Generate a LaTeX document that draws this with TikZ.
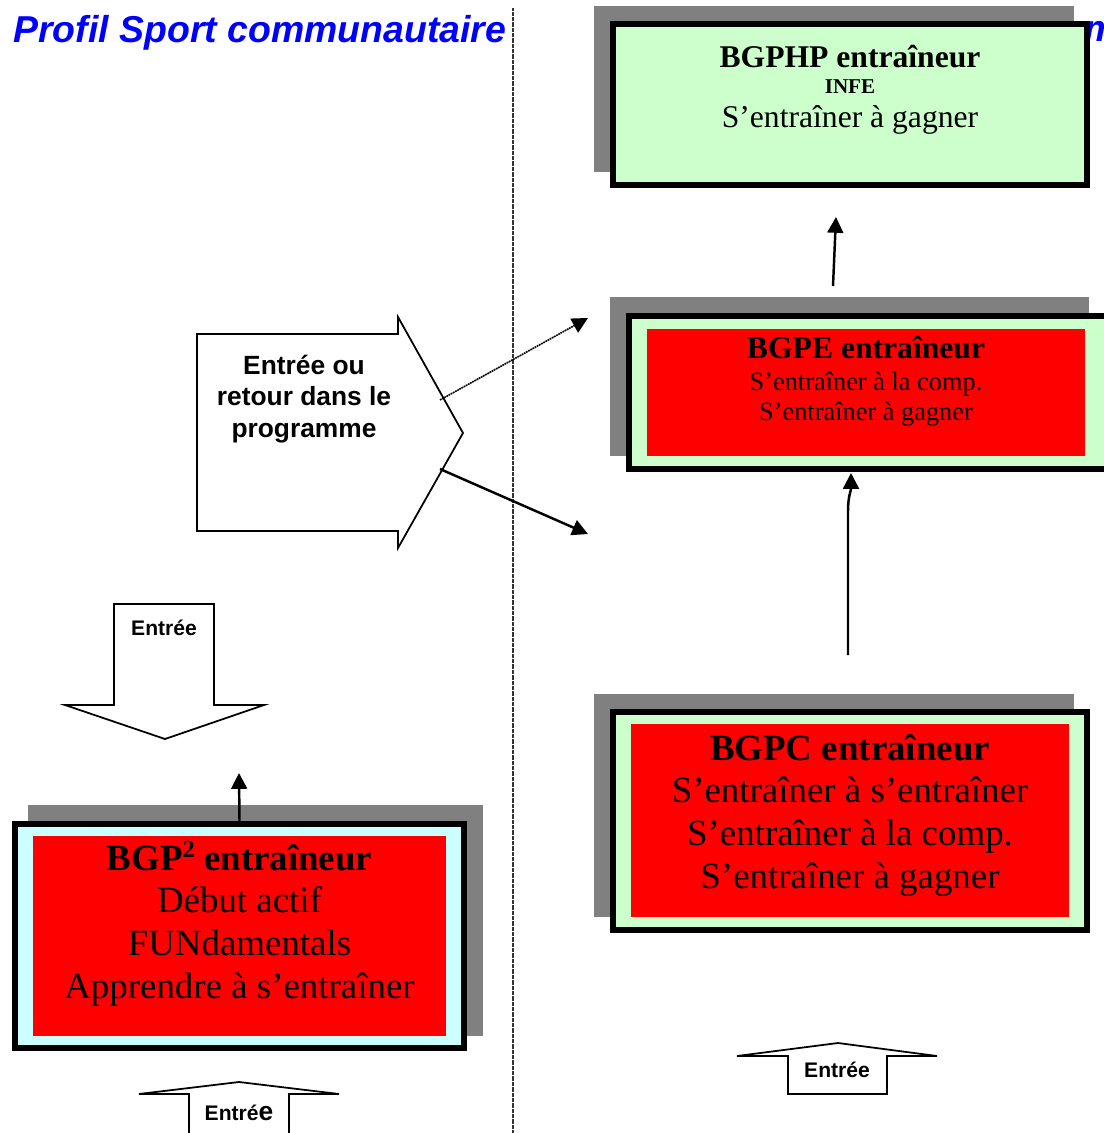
\documentclass[tikz,border=0pt]{standalone}
\usepackage{fontspec}
\setmainfont{Liberation Serif}
\setsansfont{Liberation Sans}
\usetikzlibrary{arrows.meta,positioning}

\definecolor{vertpale}{RGB}{204,255,204}
\definecolor{cyanpale}{RGB}{204,255,255}
\definecolor{ombre}{RGB}{128,128,128}
\definecolor{rouge}{RGB}{255,0,0}
\definecolor{bleutitre}{RGB}{0,0,255}

\tikzset{
  ombrage/.style={fill=ombre},
  cadre/.style={draw=black, line width=3.3pt, inner sep=0pt},
  fond/.style={fill=rouge, inner sep=0pt},
  ligne/.style={anchor=base, inner sep=0pt},
  fleche/.style={line width=1.4pt, -{Triangle[length=9pt,width=9pt]}},
  grossefleche/.style={draw=black, line width=1pt, fill=white, line join=miter},
  entreelbl/.style={font=\sffamily\bfseries\fontsize{12}{14}\selectfont, anchor=base, inner sep=0pt}
}

\begin{document}
\begin{tikzpicture}[x=0.02cm, y=-0.02cm]
  \useasboundingbox (0,0) rectangle (1103,1133);

  % separation line
  \draw[black!80, line width=0.6pt, dash pattern=on 0.4pt off 0.3pt] (513,8) -- (513,1133);

  % titles
  \node[ligne, anchor=base west, text=bleutitre, font=\sffamily\bfseries\itshape\fontsize{21.3}{25}\selectfont]
    (titre) at (13,42) {Profil Sport communautaire};
  \node[ligne, anchor=base west, text=bleutitre, font=\sffamily\bfseries\itshape\fontsize{21.3}{25}\selectfont]
    (titrebis) at (1084,41) {m};

  % BGPHP
  \fill[ombrage] (594,6) rectangle (1074,172);
  \node[cadre, fill=vertpale, minimum width=9.48cm, minimum height=3.22cm] (bgphp) at (850,104.5) {};
  \node[ligne, font=\bfseries\fontsize{18}{20}\selectfont] (bgphp1) at (850,67) {BGPHP entraîneur};
  \node[ligne, font=\bfseries\fontsize{12}{14}\selectfont] (bgphp2) at (850,93) {INFE};
  \node[ligne, font=\fontsize{18}{20}\selectfont] (bgphp3) at (850,127) {S’entraîner à gagner};

  % BGPE
  \fill[ombrage] (610,297) rectangle (1089,456);
  \node[cadre, fill=vertpale, minimum width=9.66cm, minimum height=3.06cm] (bgpe) at (870.5,392.5) {};
  \node[fond, minimum width=8.76cm, minimum height=2.54cm] (bgpefond) at (866,392.5) {};
  \node[ligne, font=\bfseries\fontsize{18}{20}\selectfont] (bgpe1) at (866,358) {BGPE entraîneur};
  \node[ligne, font=\fontsize{15}{17}\selectfont] (bgpe2) at (866,390) {S’entraîner à la comp.};
  \node[ligne, font=\fontsize{15}{17}\selectfont] (bgpe3) at (866,420) {S’entraîner à gagner};

  % BGPC
  \fill[ombrage] (594,694) rectangle (1074,917);
  \node[cadre, fill=vertpale, minimum width=9.48cm, minimum height=4.36cm] (bgpc) at (850,821) {};
  \node[fond, minimum width=8.76cm, minimum height=3.86cm] (bgpcfond) at (850,820.5) {};
  \node[ligne, font=\bfseries\fontsize{21}{24}\selectfont] (bgpc1) at (850,760) {BGPC entraîneur};
  \node[ligne, font=\fontsize{21}{24}\selectfont] (bgpc2) at (850,802) {S’entraîner à s’entraîner};
  \node[ligne, font=\fontsize{21}{24}\selectfont] (bgpc3) at (850,845) {S’entraîner à la comp.};
  \node[ligne, font=\fontsize{21}{24}\selectfont] (bgpc4) at (850,888) {S’entraîner à gagner};

  % BGP2
  \fill[ombrage] (28,805) rectangle (483,1036);
  \node[cadre, fill=cyanpale, minimum width=8.98cm, minimum height=4.48cm] (bgp2) at (239.5,936) {};
  \node[fond, minimum width=8.26cm, minimum height=4cm] (bgp2fond) at (239.5,936) {};
  \node[ligne, font=\bfseries\fontsize{21}{24}\selectfont] (bgp21) at (239.5,870) {BGP{\fontsize{14}{14}\selectfont\raisebox{0.5em}{2}} entraîneur};
  \node[ligne, font=\fontsize{21}{24}\selectfont] (bgp22) at (239.5,912) {Début actif};
  \node[ligne, font=\fontsize{21}{24}\selectfont] (bgp23) at (239.5,955) {FUNdamentals};
  \node[ligne, font=\fontsize{21}{24}\selectfont] (bgp24) at (239.5,998) {Apprendre à s’entraîner};

  % entry arrows
  \draw[grossefleche] (197,334) -- (398,334) -- (398,317) -- (463,433) -- (398,548) -- (398,531) -- (197,531) -- cycle;
  \node[align=center, inner sep=0pt, font=\sffamily\bfseries\fontsize{15}{17.8}\selectfont]
    (retour) at (304,399) {Entrée ou\\retour dans le\\programme};

  \draw[grossefleche] (114,604) -- (214,604) -- (214,705) -- (264,705) -- (165,739) -- (65,705) -- (114,705) -- cycle;
  \node[entreelbl] (entreehaut) at (164,635) {Entrée};

  \draw[grossefleche] (189,1145) -- (189,1094) -- (139,1094) -- (239,1082) -- (339,1094) -- (289,1094) -- (289,1145);
  \node[entreelbl] (entreegauche) at (239,1120) {Entré{\fontsize{15}{15}\selectfont e}};

  \draw[grossefleche] (788,1094) -- (788,1056) -- (737,1056) -- (838,1043) -- (937,1056) -- (887,1056) -- (887,1094) -- cycle;
  \node[entreelbl] (entreedroite) at (837,1077) {Entrée};

  % connectors
  \coordinate (hpbas) at (833,286);
  \coordinate (hphaut) at (836,217);
  \coordinate (pcbas) at (848,655);
  \coordinate (pehaut) at (851,473);
  \coordinate (p2haut) at (239,773);
  \coordinate (retourhaut) at (440,400);
  \coordinate (retourbas) at (440,469);
  \coordinate (versbgpe) at (588,318);
  \coordinate (versbgpc) at (588,534);

  \draw[fleche] (hpbas) -- (hphaut);
  \draw[fleche] (pcbas) -- (848,512) .. controls (848,495) and (851,492) .. (pehaut);
  \draw[fleche] (bgp2.north) -- (p2haut);
  \draw[fleche, line width=0.9pt, dash pattern=on 1pt off 0.4pt] (retourhaut) -- (versbgpe);
  \draw[fleche] (retourbas) -- (versbgpc);
\end{tikzpicture}
\end{document}
